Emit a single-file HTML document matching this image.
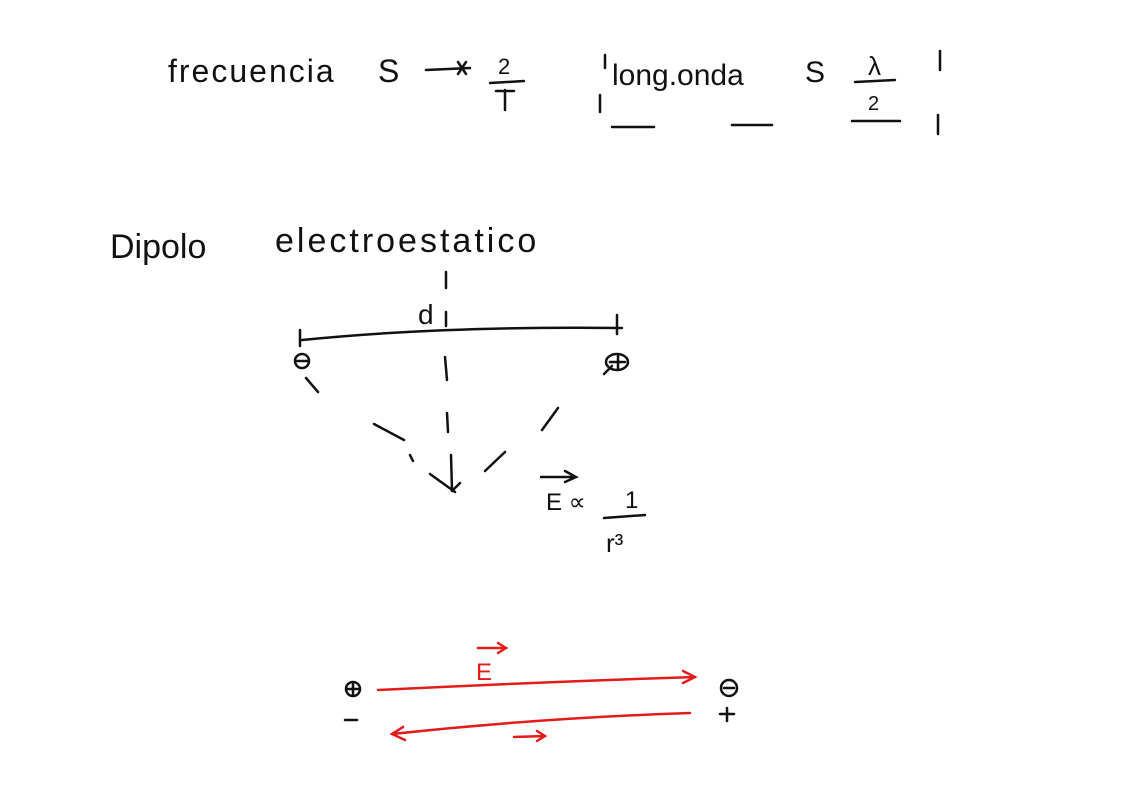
<!DOCTYPE html>
<html><head><meta charset="utf-8"><style>
html,body{margin:0;padding:0;background:#fff;width:1123px;height:793px;overflow:hidden}
svg{display:block}
text{font-family:"Liberation Sans",sans-serif;fill:#111}
</style></head><body>
<svg width="1123" height="793" viewBox="0 0 1123 793" xmlns="http://www.w3.org/2000/svg">
<g stroke="#111" stroke-width="2.5" fill="none" stroke-linecap="round">
<!-- top -->
<path d="M426 70 L470 68 M458 62 L466 74 M466 62 L458 74"/>
<path d="M490 83 L524 81 M505 90 L505 110 M496 91 L514 91"/>
<path d="M605 55 L605 68 M600 95 L600 112 M612 127 L654 127 M732 125 L772 125 M852 121 L900 121 M940 51 L940 70 M938 115 L938 134 M855 82 L895 80"/>
<!-- dipole -->
<path d="M300 330 L300 346 M302 340 Q440 326 622 328 M617 315 L617 334 M446 272 L446 288 M446 312 L446 326"/>
<circle cx="302" cy="361" r="7"/><path d="M297 361 L307 361"/>
<ellipse cx="617" cy="362" rx="11" ry="8"/><path d="M610 362 L625 362 M618 355 L618 370 M604 374 L612 366"/>
<path d="M306 378 L318 392 M445 357 L447 380 M447 413 L448 432 M451 455 L452 490 M374 424 L404 440 M410 455 L413 461 M430 474 L455 492 M460 483 L452 491 M485 471 L505 452 M542 430 L558 408"/>
<path d="M541 477 L576 477 M565 471 L576 477 L565 482 M604 518 L645 515"/>
<!-- red -->
<g stroke="#e21b1b">
<path d="M378 690 Q540 682 695 677 M683 671 L695 677 L683 683"/>
<path d="M690 713 Q540 718 392 734 M403 727 L392 734 L405 740"/>
<path d="M478 648 L506 648 M498 643 L506 648 L498 653 M514 737 L545 736 M537 731 L545 736 L537 741"/>
</g>
<circle cx="353" cy="689" r="7"/><path d="M347 689 L359 689 M353 683 L353 695"/>
<circle cx="729" cy="688" r="8"/><path d="M724 688 L734 688"/>
<path d="M345 720 L357 720 M720 714 L734 714 M727 708 L727 721"/>
</g>
<text x="168" y="82" font-size="32" letter-spacing="2">frecuencia</text>
<text x="378" y="82" font-size="32">S</text>
<text x="498" y="74" font-size="22">2</text>
<text x="612" y="85" font-size="30">long.onda</text>
<text x="805" y="82" font-size="30">S</text>
<text x="868" y="75" font-size="26">λ</text>
<text x="868" y="110" font-size="20">2</text>
<text x="110" y="258" font-size="34">Dipolo</text>
<text x="275" y="252" font-size="34" letter-spacing="3">electroestatico</text>
<text x="418" y="324" font-size="28">d</text>
<text x="546" y="510" font-size="24">E ∝</text>
<text x="625" y="508" font-size="24">1</text>
<text x="606" y="552" font-size="26">r³</text>
<text x="476" y="680" font-size="24" fill="#e21b1b" style="fill:#e21b1b">E</text>
</svg>
</body></html>
